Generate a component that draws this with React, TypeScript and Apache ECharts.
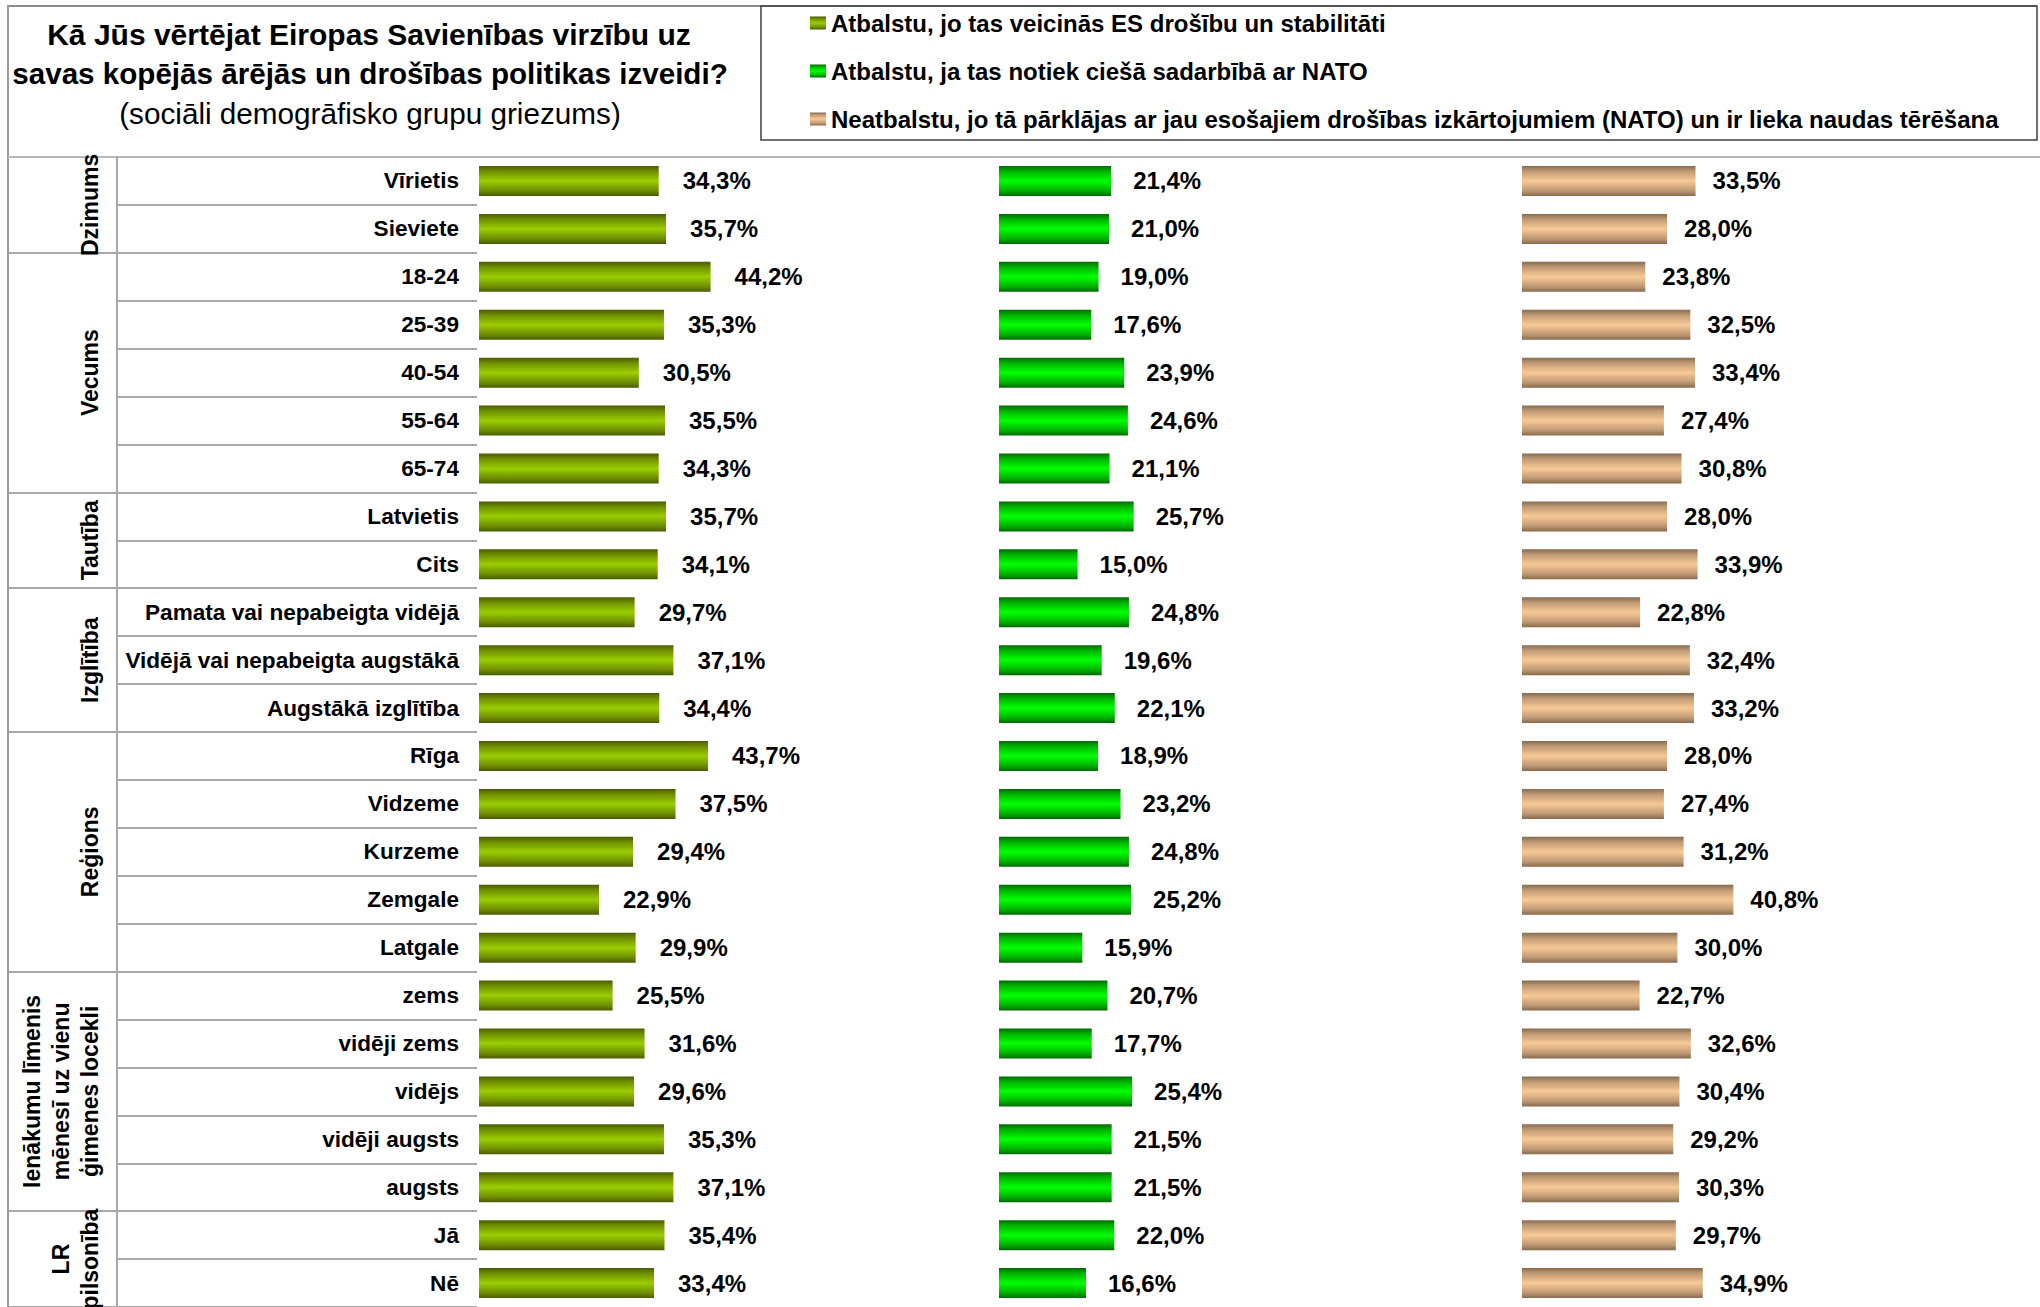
import React, { useEffect, useRef } from "react";
import * as echarts from "echarts";

const categories = [
  "Vīrietis", "Sieviete",
  "18-24", "25-39", "40-54", "55-64", "65-74",
  "Latvietis", "Cits",
  "Pamata vai nepabeigta vidējā", "Vidējā vai nepabeigta augstākā", "Augstākā izglītība",
  "Rīga", "Vidzeme", "Kurzeme", "Zemgale", "Latgale",
  "zems", "vidēji zems", "vidējs", "vidēji augsts", "augsts",
  "Jā", "Nē",
];

const groupNames = [
  "Dzimums",
  "Vecums",
  "Tautība",
  "Izglītība",
  "Reģions",
  "Ienākumu līmenis\nmēnesī uz vienu\nģimenes locekli",
  "LR\npilsonība",
];
const groupSizes = [2, 5, 2, 3, 5, 5, 2];

const seriesNames = [
  "Atbalstu, jo tas veicinās ES drošību un stabilitāti",
  "Atbalstu, ja tas notiek ciešā sadarbībā ar NATO",
  "Neatbalstu, jo tā pārklājas ar jau esošajiem drošības izkārtojumiem (NATO) un ir lieka naudas tērēšana",
];

const supportEU = [34.3, 35.7, 44.2, 35.3, 30.5, 35.5, 34.3, 35.7, 34.1, 29.7, 37.1, 34.4, 43.7, 37.5, 29.4, 22.9, 29.9, 25.5, 31.6, 29.6, 35.3, 37.1, 35.4, 33.4];
const supportNATO = [21.4, 21.0, 19.0, 17.6, 23.9, 24.6, 21.1, 25.7, 15.0, 24.8, 19.6, 22.1, 18.9, 23.2, 24.8, 25.2, 15.9, 20.7, 17.7, 25.4, 21.5, 21.5, 22.0, 16.6];
const oppose = [33.5, 28.0, 23.8, 32.5, 33.4, 27.4, 30.8, 28.0, 33.9, 22.8, 32.4, 33.2, 28.0, 27.4, 31.2, 40.8, 30.0, 22.7, 32.6, 30.4, 29.2, 30.3, 29.7, 34.9];

const titleLines = [
  "Kā Jūs vērtējat Eiropas Savienības virzību uz",
  "savas kopējās ārējās un drošības politikas izveidi?",
];
const subtitle = "(sociāli demogrāfisko grupu griezums)";

const FONT = '"Liberation Sans", Arial, Helvetica, sans-serif';
const LINE = "#a8a8a8";

function grad(edge: string, mid: string, center: string) {
  return new echarts.graphic.LinearGradient(0, 0, 0, 1, [
    { offset: 0, color: edge },
    { offset: 0.18, color: mid },
    { offset: 0.5, color: center },
    { offset: 0.82, color: mid },
    { offset: 1, color: edge },
  ]);
}

const fmt = (p: any) => p.value.toFixed(1).replace(".", ",") + "%";

export default function App() {
  const ref = useRef<HTMLDivElement>(null);

  useEffect(() => {
    document.body.style.margin = "0";
    const el = ref.current!;
    const chart = echarts.init(el, null, { renderer: "svg" });

    const TOP = 157;
    const ROW = 48;
    const H = ROW * categories.length;

    const groupStartSet = new Set<number>();
    let acc = 0;
    groupSizes.forEach((n) => {
      groupStartSet.add(acc);
      acc += n;
    });
    groupStartSet.add(acc);

    const labelStyle = {
      show: true,
      position: "right" as const,
      formatter: fmt,
      fontSize: 24,
      fontWeight: "bold" as const,
      color: "#000",
      fontFamily: FONT,
    };

    const hiddenCat = (gridIndex: number) => ({
      gridIndex,
      type: "category" as const,
      data: categories,
      inverse: true,
      axisLine: { show: false },
      axisTick: { show: false },
      axisLabel: { show: false },
      splitLine: { show: false },
    });

    const option: any = {
      animation: false,
      backgroundColor: "#fff",
      legend: {
        orient: "vertical",
        left: 805,
        top: 6,
        itemWidth: 16,
        itemHeight: 13,
        itemGap: 24,
        icon: "rect",
        selectedMode: false,
        data: seriesNames,
        textStyle: {
          fontSize: 24,
          fontWeight: "bold",
          color: "#000",
          fontFamily: FONT,
          lineHeight: 24,
        },
      },
      grid: [
        { left: 8, top: TOP, width: 109, height: H },
        { left: 117, top: TOP, width: 360, height: H },
        { left: 479, top: TOP, width: 524, height: H },
        { left: 999, top: TOP, width: 524, height: H },
        { left: 1522, top: TOP, width: 524, height: H },
      ],
      xAxis: [0, 1, 2, 3, 4].map((i) => ({
        gridIndex: i,
        type: "value",
        min: 0,
        max: i < 2 ? 1 : 100,
        show: false,
      })),
      yAxis: [
        {
          ...hiddenCat(0),
          splitLine: {
            show: true,
            interval: (idx: number) => groupStartSet.has(idx),
            lineStyle: { color: LINE, width: 2 },
          },
        },
        {
          ...hiddenCat(1),
          position: "right",
          axisLine: { show: true, lineStyle: { color: LINE, width: 2 } },
          splitLine: { show: true, interval: 0, lineStyle: { color: LINE, width: 2 } },
        },
        {
          ...hiddenCat(2),
          axisLabel: {
            show: true,
            margin: 20,
            interval: 0,
            fontSize: 22.6,
            fontWeight: "bold",
            color: "#000",
            fontFamily: FONT,
          },
        },
        hiddenCat(3),
        hiddenCat(4),
      ],
      series: [
        {
          type: "bar",
          name: seriesNames[0],
          xAxisIndex: 2,
          yAxisIndex: 2,
          data: supportEU,
          barWidth: 30,
          itemStyle: { color: grad("#4a5c00", "#6f8f00", "#9acd00") },
          label: { ...labelStyle, distance: 24 },
        },
        {
          type: "bar",
          name: seriesNames[1],
          xAxisIndex: 3,
          yAxisIndex: 3,
          data: supportNATO,
          barWidth: 30,
          itemStyle: { color: grad("#006a00", "#00b300", "#00ff00") },
          label: { ...labelStyle, distance: 22 },
        },
        {
          type: "bar",
          name: seriesNames[2],
          xAxisIndex: 4,
          yAxisIndex: 4,
          data: oppose,
          barWidth: 30,
          itemStyle: { color: grad("#876a4e", "#c09a74", "#f7c996") },
          label: { ...labelStyle, distance: 17 },
        },
      ],
    };

    chart.setOption(option);

    const graphics: any[] = [
      {
        type: "line",
        shape: { x1: 8, y1: 6, x2: 2037, y2: 6 },
        style: { stroke: "#8c8c8c", lineWidth: 2 },
      },
      {
        type: "line",
        shape: { x1: 8, y1: 5, x2: 8, y2: 1307 },
        style: { stroke: "#9a9a9a", lineWidth: 2 },
      },
      {
        type: "rect",
        shape: { x: 761, y: 6, width: 1276, height: 134 },
        style: { stroke: "#404040", lineWidth: 1.5, fill: "none" },
      },
      {
        type: "line",
        shape: { x1: 8, y1: TOP, x2: 2040, y2: TOP },
        style: { stroke: "#b8b8b8", lineWidth: 2 },
      },
      {
        type: "text",
        x: 369,
        y: 34,
        style: {
          text: titleLines[0],
          align: "center",
          verticalAlign: "middle",
          fontSize: 30,
          fontWeight: "bold",
          fontFamily: FONT,
          fill: "#000",
        },
      },
      {
        type: "text",
        x: 370,
        y: 73,
        style: {
          text: titleLines[1],
          align: "center",
          verticalAlign: "middle",
          fontSize: 29.6,
          fontWeight: "bold",
          fontFamily: FONT,
          fill: "#000",
        },
      },
      {
        type: "text",
        x: 370,
        y: 113,
        style: {
          text: subtitle,
          align: "center",
          verticalAlign: "middle",
          fontSize: 29.7,
          fontFamily: FONT,
          fill: "#000",
        },
      },
    ];

    let start = 0;
    groupSizes.forEach((n, gi) => {
      const y1 = chart.convertToPixel({ yAxisIndex: 0 } as any, start) as unknown as number;
      const y2 = chart.convertToPixel({ yAxisIndex: 0 } as any, start + n - 1) as unknown as number;
      graphics.push({
        type: "text",
        x: 104,
        y: (y1 + y2) / 2,
        rotation: Math.PI / 2,
        style: {
          text: groupNames[gi],
          align: "center",
          verticalAlign: "bottom",
          fontSize: 23,
          fontWeight: "bold",
          fontFamily: FONT,
          lineHeight: 29,
          fill: "#000",
        },
      });
      start += n;
    });

    chart.setOption({ graphic: graphics });

    return () => {
      chart.dispose();
    };
  }, []);

  return <div ref={ref} style={{ width: 2040, height: 1307 }} />;
}
